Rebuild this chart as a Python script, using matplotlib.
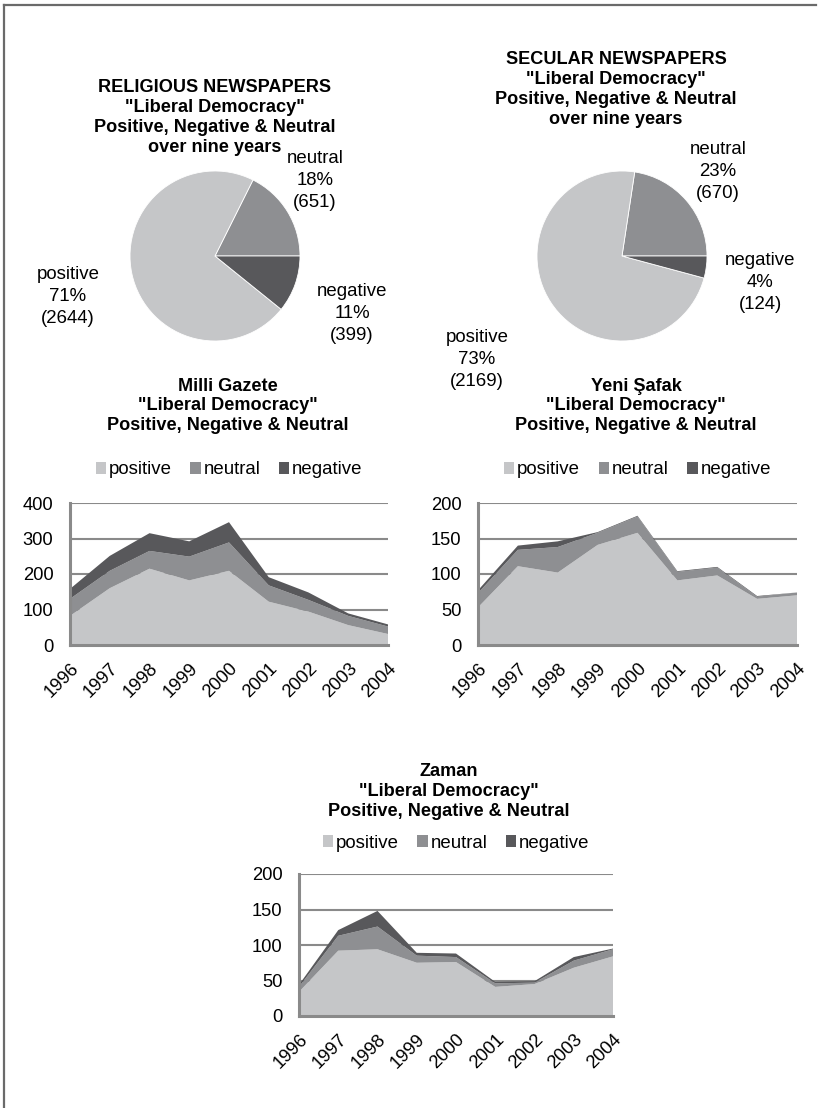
import matplotlib
matplotlib.use("Agg")
import matplotlib.pyplot as plt
from matplotlib.lines import Line2D

plt.rcParams['font.family'] = ['Liberation Sans', 'DejaVu Sans']

# ---------------- data ----------------
categories = ["positive", "neutral", "negative"]
years = ["1996", "1997", "1998", "1999", "2000", "2001", "2002", "2003", "2004"]

religious_counts = {"positive": 2644, "neutral": 651, "negative": 399}
religious_pct = {"positive": 71, "neutral": 18, "negative": 11}
secular_counts = {"positive": 2169, "neutral": 670, "negative": 124}
secular_pct = {"positive": 73, "neutral": 23, "negative": 4}

milli_positive = [82, 160, 215, 182, 209, 122, 94, 56, 31]
milli_neutral = [48, 49, 50, 67, 80, 46, 33, 26, 21]
milli_negative = [28, 42, 50, 43, 57, 23, 21, 7, 6]

yeni_positive = [53, 111, 102, 141, 158, 91, 98, 65, 70]
yeni_neutral = [20, 23, 36, 17, 23, 12, 11, 3, 4]
yeni_negative = [4, 6, 8, 1, 1, 1, 1, 1, 0]

zaman_positive = [34, 92, 94, 75, 76, 41, 45, 68, 84]
zaman_neutral = [7, 21, 32, 10, 7, 5, 2, 10, 10]
zaman_negative = [3, 8, 22, 4, 5, 2, 2, 5, 1]

colors = {"positive": "#c5c6c8", "neutral": "#8e8f92", "negative": "#58585b"}

# ---------------- figure ----------------
W, H = 819, 1108
fig = plt.figure(figsize=(W / 100, H / 100), dpi=100)


def px_axes(x0, y0, x1, y1):
    return fig.add_axes([x0 / W, 1 - y1 / H, (x1 - x0) / W, (y1 - y0) / H])


def ftext(x, y, s, **kw):
    fig.text(x / W, 1 - y / H, s, **kw)


# frame
fig.add_artist(Line2D([4 / W, 4 / W], [0, 1 - 5 / H], transform=fig.transFigure,
                      color="#6a6a6a", lw=1.6))
fig.add_artist(Line2D([4 / W, 816 / W], [1 - 5 / H, 1 - 5 / H], transform=fig.transFigure,
                      color="#6a6a6a", lw=1.6))

TITLE_FS = 13.1
LABEL_FS = 13.4
TITLE_STEP = 20  # px between title lines


def title_block(x, y_first, lines):
    # each title line is its own text, centred on its line
    for i, line in enumerate(lines):
        ftext(x, y_first + i * TITLE_STEP, line, fontsize=TITLE_FS, fontweight="bold",
              ha="center", va="center")


# ---------------- pies ----------------
def draw_pie(box, counts, pcts, label_pos):
    ax = px_axes(*box)
    order = ["neutral", "positive", "negative"]
    vals = [counts[k] for k in order]
    ax.pie(vals, colors=[colors[k] for k in order], startangle=0, radius=1,
           wedgeprops=dict(edgecolor="white", linewidth=0.6))
    ax.set_xlim(-1, 1)
    ax.set_ylim(-1, 1)
    ax.set_aspect("equal")
    ax.axis("off")
    for k in order:
        x, y = label_pos[k]
        ftext(x, y, f"{k}\n{pcts[k]}%\n({counts[k]})", fontsize=LABEL_FS, ha="center",
              va="top", linespacing=1.38)


draw_pie((130, 171, 300, 341), religious_counts, religious_pct,
         {"neutral": (315, 150), "negative": (352, 283), "positive": (68, 266)})
draw_pie((537, 171, 707, 341), secular_counts, secular_pct,
         {"neutral": (718, 141), "negative": (760, 252), "positive": (477, 329)})

title_block(215, 87, ["RELIGIOUS NEWSPAPERS", '"Liberal Democracy"',
                      "Positive, Negative & Neutral", "over nine years"])
title_block(616, 60, ["SECULAR NEWSPAPERS", '"Liberal Democracy"',
                      "Positive, Negative & Neutral", "over nine years"])


# ---------------- area charts ----------------
def draw_area(box, pos, neu, neg, ymax, ystep, title_lines, title_xy, legend_y):
    ax = px_axes(*box)
    x = list(range(len(years)))
    ax.stackplot(x, pos, neu, neg,
                 colors=[colors["positive"], colors["neutral"], colors["negative"]],
                 labels=categories, zorder=3, linewidth=0)
    ax.set_xlim(0, len(years) - 1)
    ax.set_ylim(0, ymax)
    ax.set_yticks(list(range(0, ymax + 1, ystep)))
    ax.yaxis.grid(True, color="#8a8a8a", linewidth=1.5, zorder=1)
    ax.set_axisbelow(True)
    ax.set_xticks(x)
    ax.set_xticklabels(years, rotation=45, ha="right", va="top", rotation_mode="anchor")
    ax.tick_params(axis="both", length=0, labelsize=13.2)
    ax.tick_params(axis="y", pad=12)
    ax.tick_params(axis="x", pad=11)
    for s in ["top", "right"]:
        ax.spines[s].set_visible(False)
    for s in ["left", "bottom"]:
        ax.spines[s].set_color("#8a8a8a")
        ax.spines[s].set_linewidth(2.2)
        ax.spines[s].set_zorder(4)
    x0, y0, x1, y1 = box
    ly = (y1 - legend_y) / (y1 - y0)
    ax.legend(loc="center", bbox_to_anchor=(0.5, ly), ncol=3, frameon=False,
              fontsize=LABEL_FS, handlelength=0.55, handleheight=0.55,
              handletextpad=0.15, columnspacing=1.0, borderaxespad=0)
    title_block(title_xy[0], title_xy[1], title_lines)


draw_area((70, 503, 388, 645), milli_positive, milli_neutral, milli_negative, 400, 100,
          ["Milli Gazete", '"Liberal Democracy"', "Positive, Negative & Neutral"], (228, 386), 470)
draw_area((478, 503, 797, 645), yeni_positive, yeni_neutral, yeni_negative, 200, 50,
          ["Yeni Şafak", '"Liberal Democracy"', "Positive, Negative & Neutral"], (636, 386), 470)
draw_area((299, 874, 613, 1016), zaman_positive, zaman_neutral, zaman_negative, 200, 50,
          ["Zaman", '"Liberal Democracy"', "Positive, Negative & Neutral"], (449, 772), 843)

fig.savefig("out.png", dpi=100)
